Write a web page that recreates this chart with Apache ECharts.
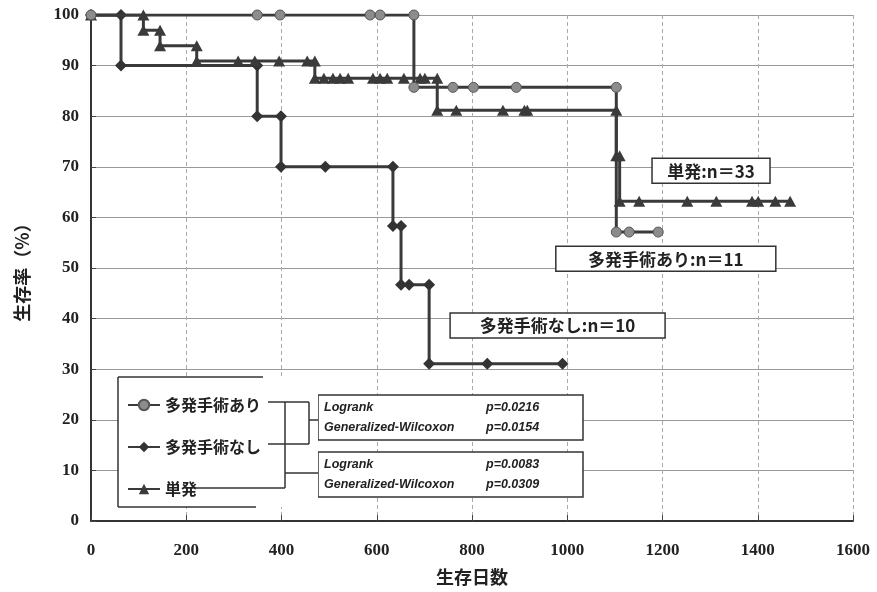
<!DOCTYPE html>
<html lang="ja">
<head>
    <meta charset="UTF-8">
    <title>生存率曲線</title>
    <script src="https://cdn.jsdelivr.net/npm/echarts@6/dist/echarts.min.js"></script>
</head>
<body style="margin:0; background:#fff">
<div id="main" style="width:877px; height:592px"></div>
<script type="text/javascript">
    // 多発手術あり (n=11)
    var daysAri = [0, 349, 397, 586, 607, 678, 678, 760, 803, 893, 1103, 1103, 1130, 1191];
    var survAri = [100, 100, 100, 100, 100, 100, 85.7, 85.7, 85.7, 85.7, 85.7, 57.1, 57.1, 57.1];

    // 多発手術なし (n=10)
    var daysNashi = [0, 63, 63, 349, 349, 399, 399, 492, 634, 634, 651, 651, 668, 710, 710, 832, 990];
    var survNashi = [100, 100, 90, 90, 80, 80, 70, 70, 70, 58.3, 58.3, 46.7, 46.7, 46.7, 31.1, 31.1, 31.1];

    // 単発 (n=33)
    var daysTan = [0, 110, 110, 145, 145, 222, 222, 309, 344, 395, 454, 470, 470, 489, 508, 523, 540,
        592, 607, 622, 657, 691, 701, 727, 727, 767, 865, 910, 916, 1103, 1103, 1110, 1110,
        1151, 1252, 1313, 1388, 1401, 1437, 1468];
    var survTan = [100, 100, 97, 97, 93.9, 93.9, 90.9, 90.9, 90.9, 90.9, 90.9, 90.9, 87.5, 87.5, 87.5, 87.5, 87.5,
        87.5, 87.5, 87.5, 87.5, 87.5, 87.5, 87.5, 81.2, 81.2, 81.2, 81.2, 81.2, 81.2, 72.2, 72.2, 63.2,
        63.2, 63.2, 63.2, 63.2, 63.2, 63.2, 63.2];

    var seriesNames = ['多発手術あり', '多発手術なし', '単発'];
    var pTests = ['Logrank', 'Generalized-Wilcoxon'];
    var pValues1 = ['p=0.0216', 'p=0.0154'];
    var pValues2 = ['p=0.0083', 'p=0.0309'];

    function zip(a, b) {
        return a.map(function (v, i) { return [v, b[i]]; });
    }

    var lineColor = '#3a3a3a';
    var myChart = echarts.init(document.getElementById('main'));

    var serifFont = '"Liberation Serif", "Times New Roman", serif';
    var jpFont = '"Noto Sans CJK JP", sans-serif';
    var italicFont = '"Liberation Sans", Arial, sans-serif';

    myChart.setOption({
        animation: false,
        grid: { left: 91, right: 24, top: 15, bottom: 71 },
        legend: {
            orient: 'vertical',
            left: 122,
            top: 392,
            itemGap: 26,
            itemWidth: 32,
            itemHeight: 13,
            z: 10,
            data: seriesNames,
            textStyle: { fontFamily: jpFont, fontWeight: 'bold', fontSize: 16, color: '#222' }
        },
        xAxis: {
            type: 'value',
            min: 0, max: 1600, interval: 200,
            name: '生存日数',
            nameLocation: 'middle',
            nameGap: 47,
            nameTextStyle: { fontFamily: jpFont, fontWeight: 'bold', fontSize: 18, color: '#222' },
            axisLine: { lineStyle: { color: '#333', width: 2 } },
            axisTick: { inside: true, length: 6, lineStyle: { color: '#444' } },
            axisLabel: { fontFamily: serifFont, fontWeight: 'bold', fontSize: 17, color: '#222', margin: 21,
                formatter: function (v) { return String(v); } },
            splitLine: { show: true, lineStyle: { color: '#aaa', type: [4, 3], width: 1 } }
        },
        yAxis: {
            type: 'value',
            min: 0, max: 100, interval: 10,
            name: '生存率（%）',
            nameLocation: 'middle',
            nameRotate: 90,
            nameGap: 60,
            nameTextStyle: { fontFamily: jpFont, fontWeight: 'bold', fontSize: 18, color: '#222' },
            axisLine: { show: true, lineStyle: { color: '#333', width: 2 } },
            axisTick: { show: true, inside: true, length: 5, lineStyle: { color: '#444' } },
            axisLabel: { fontFamily: serifFont, fontWeight: 'bold', fontSize: 17, color: '#222', margin: 12 },
            splitLine: { show: true, lineStyle: { color: '#999', width: 1 } }
        },
        series: [
            {
                name: seriesNames[0], type: 'line', z: 3,
                data: zip(daysAri, survAri),
                symbol: 'circle', symbolSize: 10,
                lineStyle: { color: lineColor, width: 3 },
                itemStyle: { color: '#8c8c8c', borderColor: '#555', borderWidth: 1 }
            },
            {
                name: seriesNames[1], type: 'line', z: 2,
                data: zip(daysNashi, survNashi),
                symbol: 'diamond', symbolSize: [12, 12],
                lineStyle: { color: lineColor, width: 3 },
                itemStyle: { color: '#333', borderColor: '#333', borderWidth: 0 }
            },
            {
                name: seriesNames[2], type: 'line', z: 2,
                data: zip(daysTan, survTan),
                symbol: 'triangle', symbolSize: [12, 11],
                lineStyle: { color: lineColor, width: 3 },
                itemStyle: { color: '#3a3a3a', borderColor: '#3a3a3a', borderWidth: 0 }
            }
        ]
    });

    // 注釈ボックス（データ座標で配置）
    function labelBox(text, day, surv, w) {
        var p = myChart.convertToPixel({ gridIndex: 0 }, [day, surv]);
        return {
            type: 'group', x: p[0], y: p[1], z: 10,
            children: [
                { type: 'rect', shape: { x: 0, y: 0, width: w, height: 25 },
                  style: { fill: '#fff', stroke: '#333', lineWidth: 1.5 } },
                { type: 'text', x: w / 2, y: 13,
                  style: { text: text, fill: '#222', font: 'bold 17px ' + jpFont,
                           textAlign: 'center', textVerticalAlign: 'middle' } }
            ]
        };
    }

    function line(x1, y1, x2, y2) {
        return { type: 'line', z: 10, shape: { x1: x1, y1: y1, x2: x2, y2: y2 },
                 style: { stroke: '#333', lineWidth: 1.5 } };
    }

    function pBox(top, vals) {
        return {
            type: 'group', x: 318, y: top, z: 10,
            children: [
                { type: 'rect', shape: { x: 0, y: 0, width: 265, height: 45 },
                  style: { fill: '#fff', stroke: '#333', lineWidth: 1.5 } },
                { type: 'text', x: 6, y: 13, style: { text: pTests[0], fill: '#222',
                  font: 'italic bold 12.5px ' + italicFont, textVerticalAlign: 'middle' } },
                { type: 'text', x: 168, y: 13, style: { text: vals[0], fill: '#222',
                  font: 'italic bold 12.5px ' + italicFont, textVerticalAlign: 'middle' } },
                { type: 'text', x: 6, y: 33, style: { text: pTests[1], fill: '#222',
                  font: 'italic bold 12.5px ' + italicFont, textVerticalAlign: 'middle' } },
                { type: 'text', x: 168, y: 33, style: { text: vals[1], fill: '#222',
                  font: 'italic bold 12.5px ' + italicFont, textVerticalAlign: 'middle' } }
            ]
        };
    }

    myChart.setOption({
        graphic: [
            labelBox('単発:n＝33', 1178, 71.7, 118),
            labelBox('多発手術あり:n＝11', 976, 54.3, 220),
            labelBox('多発手術なし:n＝10', 754, 41.1, 215),
            // 凡例の枠
            { type: 'rect', z: 5, shape: { x: 118, y: 377, width: 200, height: 130 },
              style: { fill: '#fff', stroke: null } },
            line(118, 377, 263, 377),
            line(118, 377, 118, 507),
            line(118, 507, 256, 507),
            // 括弧線
            line(268, 402, 309, 402),
            line(268, 444, 309, 444),
            line(309, 402, 309, 444),
            line(309, 420, 318, 420),
            line(196, 488, 285, 488),
            line(285, 402, 285, 488),
            line(285, 473, 318, 473),
            pBox(395, pValues1),
            pBox(452, pValues2)
        ]
    });
</script>
</body>
</html>
